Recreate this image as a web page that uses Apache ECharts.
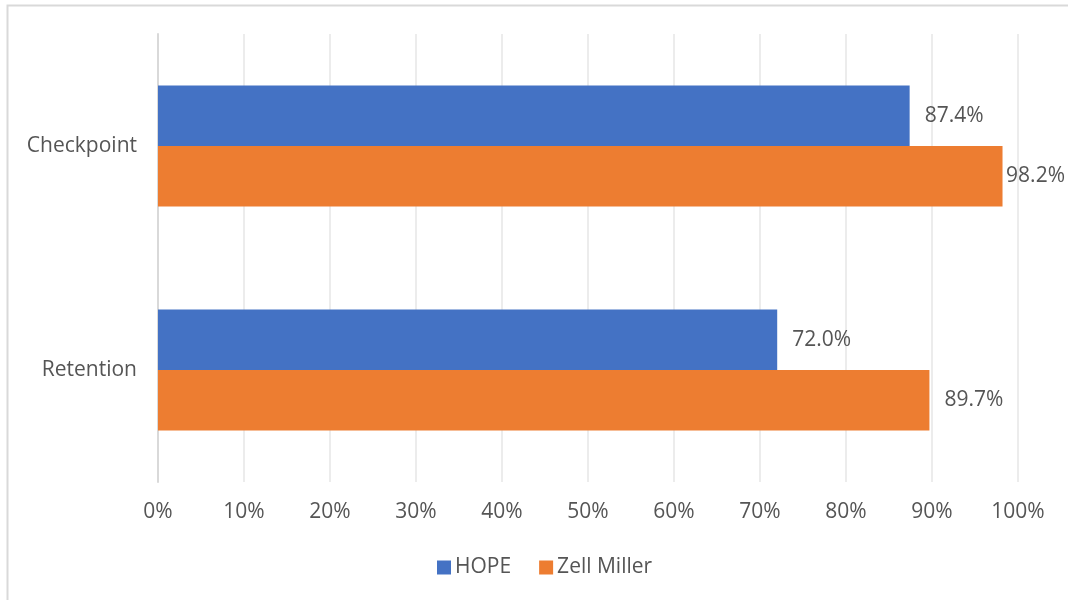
<!DOCTYPE html>
<html>
<head>
<meta charset="utf-8">
<script src="https://cdn.jsdelivr.net/npm/echarts@6/dist/echarts.min.js"></script>
<style>
html,body{margin:0;padding:0;background:#fff;}
#chart{width:1068px;height:600px;}
</style>
</head>
<body>
<div id="chart"></div>
<script>
var categories = ['Checkpoint', 'Retention'];
var hopeValues = [87.4, 72.0];
var zellValues = [98.2, 89.7];
var seriesNames = ['HOPE', 'Zell Miller'];
var xTicks = [0, 10, 20, 30, 40, 50, 60, 70, 80, 90, 100];

var textColor = '#555555';
var fontFamily = '"Open Sans", "Noto Sans", sans-serif';
var fs = 21;

var chart = echarts.init(document.getElementById('chart'), null, {renderer: 'canvas'});
var W = 1068;

var labelCfg = {
  show: true,
  position: 'right',
  distance: 15,
  color: textColor,
  fontSize: fs,
  fontFamily: fontFamily,
  formatter: function (p) { return p.value.toFixed(1) + '%'; }
};

function keepInside(p) {
  var r = p.labelRect;
  var maxRight = W - 3;
  if (r.x + r.width > maxRight) {
    return { x: maxRight - r.width, y: r.y + r.height / 2, align: 'left', verticalAlign: 'middle' };
  }
  return {};
}

chart.setOption({
  animation: false,
  backgroundColor: '#ffffff',
  textStyle: { fontFamily: fontFamily },
  graphic: [{
    type: 'rect',
    shape: { x: 7.5, y: 5.5, width: 1080, height: 610 },
    style: { fill: 'none', stroke: '#d9d9d9', lineWidth: 2 },
    silent: true
  }],
  grid: { left: 158, right: 50, top: 34, bottom: 118, containLabel: false },
  legend: {
    data: seriesNames,
    left: 432,
    top: 552,
    itemWidth: 14,
    itemHeight: 14,
    itemGap: 28,
    icon: 'rect',
    textStyle: { color: textColor, fontSize: fs, fontFamily: fontFamily, padding: [0, 0, 0, -1] }
  },
  xAxis: {
    type: 'value',
    min: xTicks[0],
    max: xTicks[xTicks.length - 1],
    interval: xTicks[1] - xTicks[0],
    axisLine: { show: false },
    axisTick: { show: false },
    splitLine: { show: true, lineStyle: { color: '#ececec', width: 2 } },
    axisLabel: {
      color: textColor,
      fontSize: fs,
      fontFamily: fontFamily,
      margin: 20,
      formatter: function (v) { return v + '%'; }
    }
  },
  yAxis: {
    type: 'category',
    data: categories,
    inverse: true,
    axisLine: { show: true, lineStyle: { color: '#d9d9d9', width: 2 } },
    axisTick: { show: false },
    axisLabel: { color: textColor, fontSize: fs, fontFamily: fontFamily, margin: 21 }
  },
  series: [{
    name: seriesNames[0],
    type: 'bar',
    data: hopeValues,
    itemStyle: { color: '#4472C4' },
    barGap: '0%',
    barCategoryGap: '46%',
    label: labelCfg,
    labelLayout: keepInside
  }, {
    name: seriesNames[1],
    type: 'bar',
    data: zellValues,
    itemStyle: { color: '#ED7D31' },
    barGap: '0%',
    barCategoryGap: '46%',
    label: labelCfg,
    labelLayout: keepInside
  }]
});
</script>
</body>
</html>
